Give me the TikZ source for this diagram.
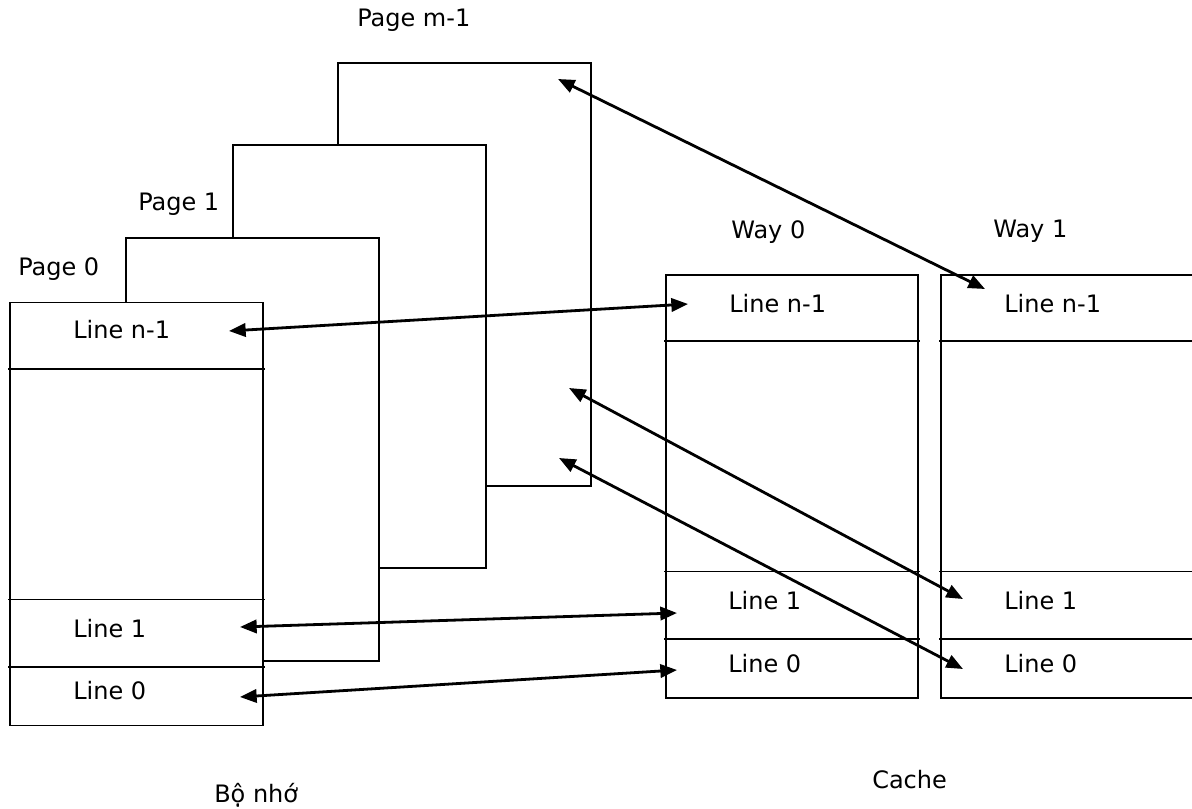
\documentclass[tikz,border=0pt]{standalone}
\usepackage{fontspec}
\setmainfont{DejaVu Sans}
\usetikzlibrary{arrows.meta}
\begin{document}
\begin{tikzpicture}[x=0.75pt,y=-0.75pt,
  box/.style={draw, line width=1.3pt, fill=white, anchor=north west, inner sep=0pt, outer sep=0pt},
  pagebox/.style={box, minimum width=189.75pt, minimum height=317.25pt},
  waybox/.style={box, minimum width=189pt, minimum height=317.25pt},
  lbl/.style={font=\fontsize{18}{21}\selectfont, inner sep=0pt, anchor=base west},
  divider/.style={line width=1.2pt},
  tip/.tip={Triangle[length=12.5pt,width=10pt]},
  link/.style={line width=2.1pt, tip-tip}]
\useasboundingbox (0,0) rectangle (1192,809);
\clip (0,0) rectangle (1192,809);

% memory pages (back to front)
\node[pagebox] (pm) at (338,63) {};
\node[pagebox] (p2) at (233,145) {};
\node[pagebox] (p1) at (126,238) {};
\node[pagebox] (p0) at (10,302.5) {};
\draw[divider] (8,369) -- (265,369);
\draw[divider] (8,599.5) -- (265,599.5);
\draw[divider] (8,667) -- (265,667);

% cache ways
\node[waybox] (w0) at (666,275) {};
\node[box, minimum width=232.5pt, minimum height=317.25pt] (w1) at (941,275) {};
\draw[divider] (664,341) -- (920,341);
\draw[divider] (664,571.5) -- (920,571.5);
\draw[divider] (664,639) -- (920,639);
\draw[divider] (939,341) -- (1192,341);
\draw[divider] (939,571.5) -- (1192,571.5);
\draw[divider] (939,639) -- (1192,639);

% labels
\node[lbl] (lpm) at (357,27) {Page m-1};
\node[lbl] (lp1) at (138,211) {Page 1};
\node[lbl] (lp0) at (18,276) {Page 0};
\node[lbl] (lw0) at (731,239) {Way 0};
\node[lbl] (lw1) at (993,238) {Way 1};
\node[lbl] (mem) at (214,802) {Bộ nhớ};
\node[lbl] (cache) at (872,788) {Cache};

\node[lbl] (p0n) at (73,339) {Line n-1};
\node[lbl] (p0l1) at (73,637) {Line 1};
\node[lbl] (p0l0) at (73,699) {Line 0};
\node[lbl] (w0n) at (729,312) {Line n-1};
\node[lbl] (w0l1) at (728,609) {Line 1};
\node[lbl] (w0l0) at (728,672) {Line 0};
\node[lbl] (w1n) at (1004,312) {Line n-1};
\node[lbl] (w1l1) at (1004,609) {Line 1};
\node[lbl] (w1l0) at (1004,672.5) {Line 0};

% arrow end points
\coordinate (a1s) at (229,331);  \coordinate (a1e) at (688,304);
\coordinate (a2s) at (558,79);   \coordinate (a2e) at (985,289);
\coordinate (a3s) at (569,388);  \coordinate (a3e) at (963,599);
\coordinate (a4s) at (559,458);  \coordinate (a4e) at (963,669);
\coordinate (a5s) at (240,627);  \coordinate (a5e) at (677,613);
\coordinate (a6s) at (240,697);  \coordinate (a6e) at (677,670);

\draw[link] (a1s) -- (a1e);
\draw[link] (a2s) -- (a2e);
\draw[link] (a3s) -- (a3e);
\draw[link] (a4s) -- (a4e);
\draw[link] (a5s) -- (a5e);
\draw[link] (a6s) -- (a6e);
\end{tikzpicture}
\end{document}
